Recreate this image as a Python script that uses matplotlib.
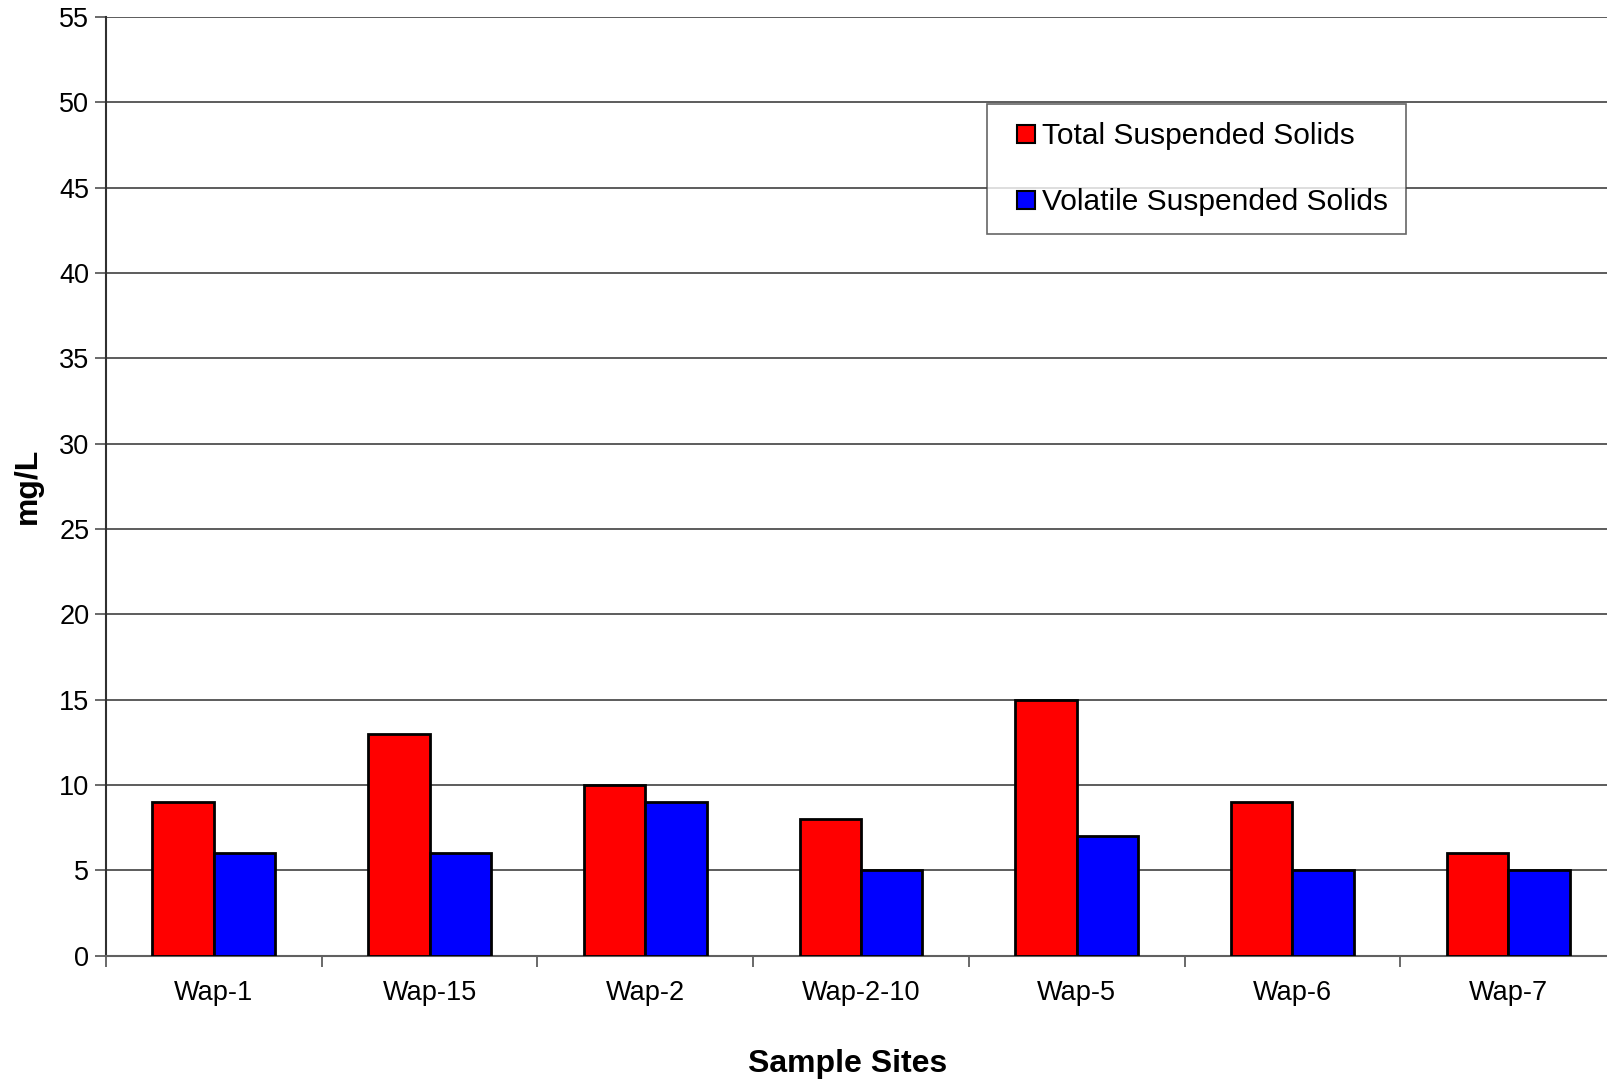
import matplotlib.pyplot as plt
from matplotlib.lines import Line2D
import numpy as np

plt.rcParams['font.family'] = ['Liberation Sans', 'DejaVu Sans']

sites = ['Wap-1', 'Wap-15', 'Wap-2', 'Wap-2-10', 'Wap-5', 'Wap-6', 'Wap-7']
tss = [9, 13, 10, 8, 15, 9, 6]
vss = [6, 6, 9, 5, 7, 5, 5]
series = ['Total Suspended Solids', 'Volatile Suspended Solids']
colors = ['#ff0000', '#0000ff']

fig = plt.figure(figsize=(16.08, 10.79), dpi=100)
# plot area runs slightly past the right edge of the canvas
ax = fig.add_axes([106 / 1608, 123.5 / 1079, 1510 / 1608, 938.5 / 1079])

x = np.arange(len(sites))
w = 0.285
ax.bar(x - w / 2, tss, w, color=colors[0], edgecolor='black', linewidth=2, zorder=3)
ax.bar(x + w / 2, vss, w, color=colors[1], edgecolor='black', linewidth=2, zorder=3)

ax.set_xlim(-0.5, len(sites) - 0.5)
ax.set_ylim(0, 55)
ax.set_yticks(np.arange(0, 56, 5))
ax.yaxis.grid(True, color='#303030', linewidth=1.1, zorder=0)

ax.set_xticks(x)
ax.set_xticklabels(sites, fontsize=19.5)
ax.set_xticks(np.arange(-0.5, len(sites)), minor=True)
ax.tick_params(axis='x', which='major', length=0, pad=18)
ax.tick_params(axis='x', which='minor', length=8, width=1.2, color='#505050')
ax.tick_params(axis='y', length=8, width=1.2, color='#505050', labelsize=19.5, pad=4)

for side in ['top', 'right']:
    ax.spines[side].set_visible(False)
ax.spines['left'].set_color('#303030')
ax.spines['left'].set_linewidth(1.5)
ax.spines['bottom'].set_color('#606060')
ax.spines['bottom'].set_linewidth(1.5)

ax.set_xlabel('Sample Sites', fontsize=23, fontweight='bold', labelpad=26)
ax.xaxis.set_label_coords(0.491, -0.1)
ax.set_ylabel('mg/L', fontsize=23, fontweight='bold', labelpad=12)

# square swatches as legend keys
handles = [Line2D([], [], linestyle='none', marker='s', markersize=13,
                  markerfacecolor=c, markeredgecolor='black', markeredgewidth=1.5)
           for c in colors]
leg = ax.legend(handles, series, loc='upper left', bbox_to_anchor=(0.5835, 0.9071),
                fontsize=21.5, frameon=True, fancybox=False, borderpad=0.6,
                handlelength=1.4, handletextpad=-0.15,
                labelspacing=1.28, borderaxespad=0)
leg.get_frame().set_edgecolor('#404040')
leg.get_frame().set_linewidth(1.2)

fig.savefig('out.png', dpi=100)
